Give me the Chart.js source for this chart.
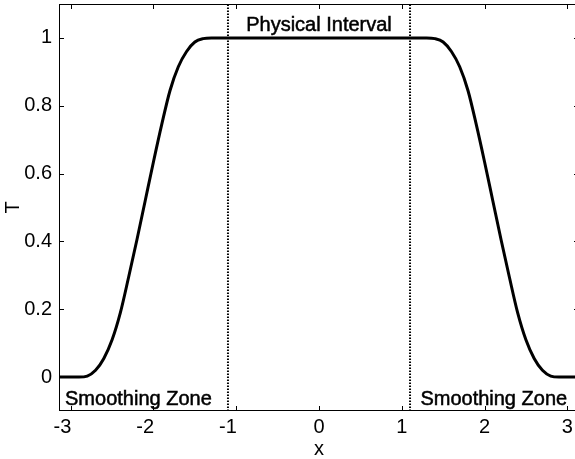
<!DOCTYPE html>
<html>
<head>
<meta charset="utf-8">
<script src="https://cdn.jsdelivr.net/npm/chart.js@4/dist/chart.umd.min.js"></script>
<style>
  html, body { margin: 0; padding: 0; background: #fff; overflow: hidden; }
  canvas { display: block; }
</style>
</head>
<body>
<canvas id="myChart" width="580" height="459"></canvas>
<script>
// smoothing profile T(x)
var xValues = [-3.1416, -2.9, -2.8, -2.7, -2.6, -2.5, -2.4, -2.3, -2.2, -2.1, -2.0, -1.9, -1.8, -1.7, -1.6, -1.5, -1.4, -1.3,
               0,
               1.3, 1.4, 1.5, 1.6, 1.7, 1.8, 1.9, 2.0, 2.1, 2.2, 2.3, 2.4, 2.5, 2.6, 2.7, 2.8, 2.9, 3.1416];
var tValues = [0, 0, 0.003, 0.02, 0.055, 0.11, 0.19, 0.295, 0.405, 0.52, 0.635, 0.745, 0.845, 0.915, 0.96, 0.988, 0.998, 1,
               1,
               1, 0.998, 0.988, 0.96, 0.915, 0.845, 0.745, 0.635, 0.52, 0.405, 0.295, 0.19, 0.11, 0.055, 0.02, 0.003, 0, 0];

// edges of the physical interval
var intervalEdges = [-1.1, 1.1];

var xTicks = [-3, -2, -1, 0, 1, 2, 3];
var xTickLabels = ['-3', '-2', '-1', '0', '1', '2', '3'];
var yTicks = [0, 0.2, 0.4, 0.6, 0.8, 1];
var yTickLabels = ['0', '0.2', '0.4', '0.6', '0.8', '1'];

var FONT = '"Liberation Sans", Arial, Helvetica, sans-serif';

var curve = xValues.map(function (x, i) { return {x: x, y: tValues[i]}; });

function edgeLine(x) {
  return {
    data: [{x: x, y: -0.1}, {x: x, y: 1.1}],
    borderColor: '#000000',
    borderWidth: 2,
    borderDash: [1.5, 1.5],
    borderCapStyle: 'butt',
    pointRadius: 0
  };
}

// no extra room for overhanging tick labels
function noPadding(axis) {
  axis.paddingTop = 0;
  axis.paddingBottom = 0;
  axis.paddingLeft = 0;
  axis.paddingRight = 0;
}

// box with inward ticks on all four sides, plus the zone labels
var boxPlugin = {
  id: 'box',
  afterDraw: function (chart) {
    var c = chart.ctx, a = chart.chartArea;
    var xs = chart.scales.x, ys = chart.scales.y;
    c.save();
    c.strokeStyle = '#000';
    c.lineWidth = 1;
    c.strokeRect(a.left + 0.5, a.top + 0.5, a.right - a.left - 1, a.bottom - a.top - 1);
    c.beginPath();
    xTicks.forEach(function (v) {
      var px = Math.round(xs.getPixelForValue(v)) + 0.5;
      c.moveTo(px, a.bottom); c.lineTo(px, a.bottom - 5);
      c.moveTo(px, a.top); c.lineTo(px, a.top + 5);
    });
    yTicks.forEach(function (v) {
      var py = Math.round(ys.getPixelForValue(v)) + 0.5;
      c.moveTo(a.left, py); c.lineTo(a.left + 5, py);
      c.moveTo(a.right, py); c.lineTo(a.right - 5, py);
    });
    c.stroke();

    c.fillStyle = '#000';
    c.strokeStyle = '#000';
    c.lineWidth = 0.5;
    c.font = '20px ' + FONT;
    c.textBaseline = 'alphabetic';
    function label(text, align, xv, yv) {
      c.textAlign = align;
      var px = xs.getPixelForValue(xv), py = ys.getPixelForValue(yv);
      c.fillText(text, px, py);
      c.strokeText(text, px, py);
    }
    label('Physical Interval', 'center', 0, 1.019);
    label('Smoothing Zone', 'left', -3.069, -0.083);
    label('Smoothing Zone', 'left', 1.225, -0.083);
    c.restore();
  }
};

var ctx = document.getElementById('myChart').getContext('2d');
var myChart = new Chart(ctx, {
  type: 'line',
  data: {
    datasets: [{
        data: curve,
        borderColor: '#000000',
        borderWidth: 3,
        pointRadius: 0,
        cubicInterpolationMode: 'monotone'
      },
      edgeLine(intervalEdges[0]),
      edgeLine(intervalEdges[1])
    ]
  },
  options: {
    responsive: false,
    animation: false,
    events: [],
    layout: { autoPadding: false, padding: { top: 4, right: 1, left: 0, bottom: 0 } },
    plugins: { legend: { display: false }, tooltip: { enabled: false } },
    scales: {
      x: {
        type: 'linear',
        min: -Math.PI,
        max: Math.PI,
        grid: { display: false, drawTicks: false },
        border: { display: false },
        afterBuildTicks: function (axis) {
          axis.ticks = xTicks.map(function (v) { return {value: v}; });
        },
        afterFit: function (axis) { axis.height = 48; noPadding(axis); },
        ticks: {
          autoSkip: false,
          maxRotation: 0,
          padding: 4,
          color: '#000',
          font: { family: FONT, size: 20 },
          callback: function (v, i) {
            var s = xTickLabels[i];
            return v < 0 ? s + '   ' : s;
          }
        },
        title: {
          display: true,
          text: 'x',
          color: '#000',
          font: { family: FONT, size: 20, lineHeight: 1 },
          padding: { top: 0, bottom: 0 }
        }
      },
      y: {
        type: 'linear',
        min: -0.1,
        max: 1.1,
        grid: { display: false, drawTicks: false },
        border: { display: false },
        afterBuildTicks: function (axis) {
          axis.ticks = yTicks.map(function (v) { return {value: v}; });
        },
        afterFit: function (axis) { axis.width = 59; noPadding(axis); },
        ticks: {
          padding: 7,
          color: '#000',
          font: { family: FONT, size: 20 },
          callback: function (v, i) { return yTickLabels[i]; }
        },
        title: {
          display: true,
          text: 'T',
          color: '#000',
          font: { family: FONT, size: 20, lineHeight: 1 },
          padding: { top: 3, bottom: 0 }
        }
      }
    }
  },
  plugins: [boxPlugin]
});
</script>
</body>
</html>
